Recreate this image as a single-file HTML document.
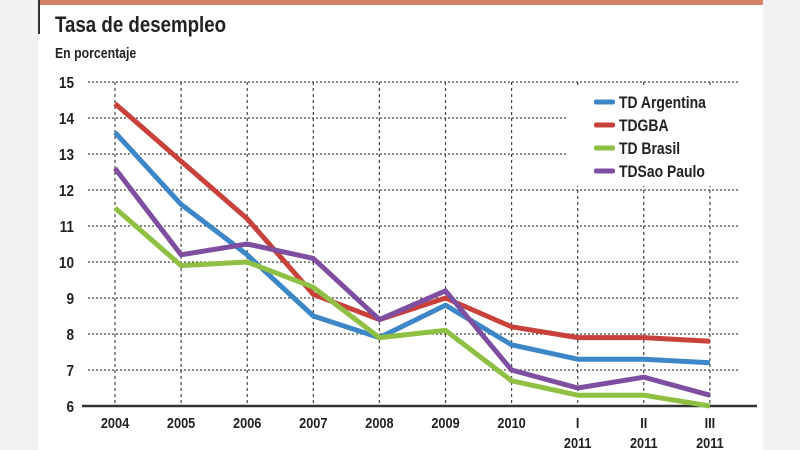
<!DOCTYPE html>
<html><head><meta charset="utf-8"><style>
body{margin:0;width:800px;height:450px;background:#f2f2f2;overflow:hidden;font-family:"Liberation Sans",sans-serif}
#card{position:absolute;left:38px;top:0;width:725px;height:450px;background:#fff}
</style></head><body>
<div id="card"></div>
<svg width="800" height="450" style="position:absolute;left:0;top:0">
<rect x="38" y="0" width="725" height="5" fill="#d4826a"/>
<rect x="38" y="0" width="2" height="34" fill="#333"/>
<text x="55" y="32" font-size="22" font-weight="bold" fill="#222" transform="scale(0.85,1)" transform-origin="55 32">Tasa de desempleo</text>
<text x="55" y="58" font-size="15" font-weight="bold" fill="#222" transform="scale(0.82,1)" transform-origin="55 58">En porcentaje</text>
<g id="grid"></g><g id="lines"></g>
<rect x="572" y="86" width="175" height="100" fill="#fff"/>
<g id="legend"></g>
</svg>
<script>
const categories=["2004","2005","2006","2007","2008","2009","2010","I|2011","II|2011","III|2011"];
const yTicks=[6,7,8,9,10,11,12,13,14,15];
const seriesNames=["TD Argentina","TDGBA","TD Brasil","TDSao Paulo"];
const seriesColors=["#3d87c8","#c8423b","#8fc044","#7e4fa1"];
const argentina=[13.6,11.6,10.2,8.5,7.9,8.8,7.7,7.3,7.3,7.2];
const gba=[14.4,12.8,11.2,9.1,8.4,9.0,8.2,7.9,7.9,7.8];
const brasil=[11.5,9.9,10.0,9.3,7.9,8.1,6.7,6.3,6.3,6.0];
const saoPaulo=[12.6,10.2,10.5,10.1,8.4,9.2,7.0,6.5,6.8,6.3];
const seriesData=[argentina,gba,brasil,saoPaulo];
const NS="http://www.w3.org/2000/svg";
const x=i=>115+i*66.1, y=v=>406-(v-6)*36;
function mk(tag,attrs,parent){const e=document.createElementNS(NS,tag);for(const k in attrs)e.setAttribute(k,attrs[k]);parent.appendChild(e);return e;}
const grid=document.getElementById('grid');
categories.forEach((c,i)=>{
  const l=mk('line',{x1:x(i),x2:x(i),y1:y(15),y2:406,stroke:'#444','stroke-width':1.2,'stroke-dasharray':'3,3'},grid);
  
  const parts=c.split('|');
  parts.forEach((p,j)=>{const tx=mk('text',{x:x(i),y:428+j*20,'font-size':15,'font-weight':'bold','text-anchor':'middle',fill:'#222',transform:'scale(0.85,1)','transform-origin':x(i)+' 0'},grid);
  tx.textContent=p;
  });
});
yTicks.forEach(t=>{
  if(t>6){const xe=(t===14||t===13)?567:740;
  const l=mk('line',{x1:88,x2:xe,y1:y(t),y2:y(t),stroke:'#444','stroke-width':1.2,'stroke-dasharray':'2,2'},grid);
  }
  const tx=mk('text',{x:74,y:y(t)+6,'font-size':16,'font-weight':'bold','text-anchor':'end',fill:'#222',transform:'scale(0.85,1)','transform-origin':'74 0'},grid);
  tx.textContent=t;
  
});
const ax=mk('line',{x1:82,x2:757,y1:406,y2:406,stroke:'#333','stroke-width':2.5},grid);

const lines=document.getElementById('lines');
seriesData.forEach((d,s)=>{
  const p=mk('polyline',{points:d.map((v,i)=>x(i)+','+y(v)).join(' '),fill:'none',stroke:seriesColors[s],'stroke-width':5,'stroke-linejoin':'round'},lines);
  
  
});
const lg=document.getElementById('legend');
seriesNames.forEach((n,s)=>{
  const yy=102+s*23;
  const r=mk('rect',{x:594,y:yy-2.5,width:21,height:5,rx:2,fill:seriesColors[s]},lg);
  
  const t=mk('text',{x:619,y:yy+6,'font-size':17,'font-weight':'bold',fill:'#222',transform:'scale(0.82,1)','transform-origin':'619 0'},lg);
  t.textContent=n;
  
});
</script>
</body></html>
